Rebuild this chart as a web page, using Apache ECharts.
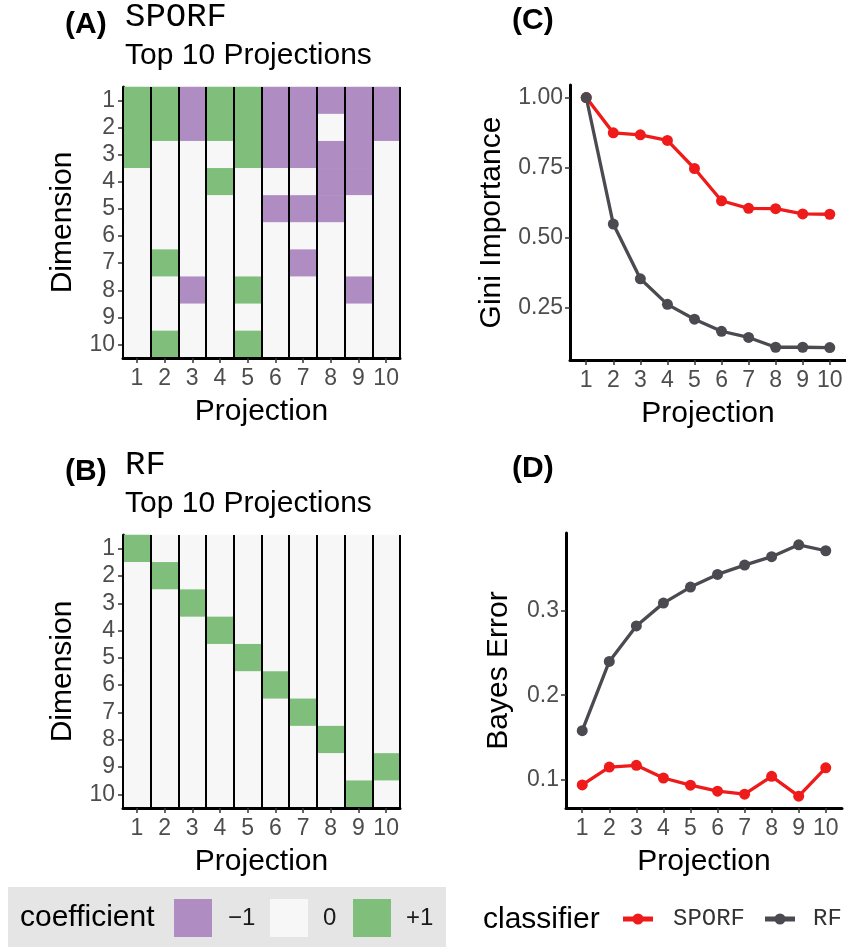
<!DOCTYPE html>
<html>
<head>
<meta charset="utf-8">
<script src="https://cdn.jsdelivr.net/npm/echarts@6/dist/echarts.min.js"></script>
<style>html,body{margin:0;padding:0;background:#fff}#c{width:846px;height:947px}</style>
</head>
<body>
<div id="c"></div>
<script>
// ---- data ----
const projections = ['1','2','3','4','5','6','7','8','9','10'];
const dimensions = ['1','2','3','4','5','6','7','8','9','10'];
// coefficient per projection (column), rows = dimension 1..10
const sporfCoef = [
  [ 1, 1, 1, 0, 0, 0, 0, 0, 0, 0],
  [ 1, 1, 0, 0, 0, 0, 1, 0, 0, 1],
  [-1,-1, 0, 0, 0, 0, 0,-1, 0, 0],
  [ 1, 1, 0, 1, 0, 0, 0, 0, 0, 0],
  [ 1, 1, 1, 0, 0, 0, 0, 1, 0, 1],
  [-1,-1,-1, 0,-1, 0, 0, 0, 0, 0],
  [-1,-1,-1, 0,-1, 0,-1, 0, 0, 0],
  [-1, 0,-1,-1,-1, 0, 0, 0, 0, 0],
  [-1,-1,-1,-1, 0, 0, 0,-1, 0, 0],
  [-1,-1, 0, 0, 0, 0, 0, 0, 0, 0]
];
const rfCoef = [
  [1,0,0,0,0,0,0,0,0,0],
  [0,1,0,0,0,0,0,0,0,0],
  [0,0,1,0,0,0,0,0,0,0],
  [0,0,0,1,0,0,0,0,0,0],
  [0,0,0,0,1,0,0,0,0,0],
  [0,0,0,0,0,1,0,0,0,0],
  [0,0,0,0,0,0,1,0,0,0],
  [0,0,0,0,0,0,0,1,0,0],
  [0,0,0,0,0,0,0,0,0,1],
  [0,0,0,0,0,0,0,0,1,0]
];
const projNum = [1,2,3,4,5,6,7,8,9,10];
const giniSPORF = [1.000,0.874,0.867,0.847,0.747,0.632,0.605,0.604,0.585,0.584];
const giniRF    = [1.000,0.549,0.354,0.263,0.210,0.167,0.145,0.110,0.110,0.109];
const bayesSPORF = [0.0938,0.115,0.117,0.102,0.0935,0.0864,0.0829,0.104,0.0805,0.114];
const bayesRF    = [0.158,0.240,0.282,0.309,0.328,0.343,0.354,0.364,0.378,0.371];
const giniTicks = [0.25,0.50,0.75,1.00];
const bayesTicks = [0.1,0.2,0.3];
const coefLevels = [-1,0,1];
const coefLabels = ['\u22121','0','+1'];
const classifiers = ['SPORF','RF'];

// ---- helpers ----
const SANS = '"Liberation Sans", Arial, Helvetica, sans-serif';
const MONO = '"Liberation Mono", "Courier New", monospace';
const RED = '#EF1B1B', GREY = '#4A4A50';
const COLS = ['#af8dc3','#f7f7f7','#7fbf7b'];
function heatData(coef){
  const out = [];
  coef.forEach((col, j) => col.forEach((v, i) => out.push([j, i, v])));
  return out;
}
function pairs(xs, ys){ return xs.map((x,i)=>[x, ys[i]]); }
const tickLbl = {color:'#4d4d4d', fontSize:23, fontFamily:SANS};
const axLine = {show:true, lineStyle:{color:'#000', width:3}};
const axTick = {show:true, length:5, lineStyle:{color:'#333', width:1.5}};
const nameStyle = {fontSize:30, color:'#000', fontFamily:SANS};

function heatX(gi){
  return {type:'category', gridIndex:gi, data:projections, z:10,
    axisLine:axLine, axisTick:Object.assign({alignWithLabel:true, interval:0}, axTick),
    axisLabel:Object.assign({margin:9, interval:0}, tickLbl),
    splitLine:{show:true, interval:0, lineStyle:{color:'#000', width:2}},
    name:'Projection', nameLocation:'middle', nameGap:39, nameTextStyle:nameStyle};
}
function heatY(gi){
  return {type:'category', gridIndex:gi, data:dimensions, inverse:true,
    axisLine:axLine, axisTick:Object.assign({alignWithLabel:true, interval:0}, axTick),
    axisLabel:Object.assign({margin:8, interval:0}, tickLbl), splitLine:{show:false},
    name:'Dimension', nameLocation:'middle', nameGap:45, nameTextStyle:nameStyle};
}
function lineX(gi){
  return {type:'value', gridIndex:gi, min:0.4, max:10.6,
    axisLine:axLine,
    axisTick:Object.assign({customValues:projNum}, axTick),
    axisLabel:Object.assign({margin:9, customValues:projNum, formatter:v=>String(v)}, tickLbl),
    splitLine:{show:false},
    name:'Projection', nameLocation:'middle', nameGap:39, nameTextStyle:nameStyle};
}
function lineY(gi, min, max, ticks, fmt, name, gap){
  return {type:'value', gridIndex:gi, min:min, max:max,
    axisLine:axLine,
    axisTick:Object.assign({customValues:ticks}, axTick),
    axisLabel:Object.assign({margin:7, customValues:ticks, formatter:fmt}, tickLbl),
    splitLine:{show:false},
    name:name, nameLocation:'middle', nameGap:gap, nameTextStyle:nameStyle};
}
function lineSeries(name, xi, yi, data, color){
  return {type:'line', name:name, xAxisIndex:xi, yAxisIndex:yi, data:data,
    symbol:'circle', symbolSize:11, showSymbol:true,
    lineStyle:{color:color, width:3.3}, itemStyle:{color:color}, z:3};
}
function txt(t, x, y, font, fill){
  return {type:'text', x:x, y:y, style:{text:t, font:font, fill:fill||'#000', verticalAlign:'middle', align:'left'}};
}

// legend graphics
const LY = 918;
const keyX = [174, 270, 353];
const keyLblX = [228, 323, 406];
const coefLegend = [];
coefLevels.forEach((v,i)=>{
  coefLegend.push({type:'rect', shape:{x:keyX[i], y:LY-19, width:38, height:38}, style:{fill:COLS[i]}});
  coefLegend.push(txt(coefLabels[i], keyLblX[i], LY, '24px '+SANS, '#1a1a1a'));
});
const clsKeyX = [623, 765];
const clsLblX = [673, 813];
const clsCol = [RED, GREY];
const clsLegend = [];
classifiers.forEach((c,i)=>{
  clsLegend.push({type:'line', shape:{x1:clsKeyX[i], y1:LY+1, x2:clsKeyX[i]+30, y2:LY+1}, style:{stroke:clsCol[i], lineWidth:5}});
  clsLegend.push({type:'circle', shape:{cx:clsKeyX[i]+15, cy:LY+1, r:5.5}, style:{fill:clsCol[i]}});
  clsLegend.push(txt(c, clsLblX[i], LY+1, '24px '+MONO, '#333'));
});

const option = {
  animation:false,
  backgroundColor:'#fff',
  grid:[
    {left:123, top:87, width:277, height:271},
    {left:123, top:535, width:277, height:273},
    {left:570, top:85, width:276, height:275},
    {left:566, top:533, width:276, height:275}
  ],
  xAxis:[heatX(0), heatX(1), lineX(2), lineX(3)],
  yAxis:[heatY(0), heatY(1),
    lineY(2, 0.0646, 1.0446, giniTicks, v=>v.toFixed(2), 'Gini Importance', 63),
    lineY(3, 0.0665, 0.392, bayesTicks, v=>v.toFixed(1), 'Bayes Error', 52)],
  visualMap:[{
    type:'piecewise', seriesIndex:[0,1], show:false,
    pieces: coefLevels.map((v,i)=>({value:v, label:coefLabels[i], color:COLS[i]}))
  }],
  graphic:[
    {type:'rect', shape:{x:8, y:887, width:438, height:60}, style:{fill:'#e5e5e5'}, z:-1},
    txt('coefficient', 20, LY, '30px '+SANS),
    txt('classifier', 483, LY+2, '30px '+SANS),
    txt('(A)', 65, 25, 'bold 30px '+SANS),
    txt('SPORF', 125, 17, '34px '+MONO),
    txt('Top 10 Projections', 125, 56, '30px '+SANS),
    txt('(B)', 65, 472, 'bold 30px '+SANS),
    txt('RF', 125, 465, '34px '+MONO),
    txt('Top 10 Projections', 125, 504, '30px '+SANS),
    txt('(C)', 512, 21, 'bold 30px '+SANS),
    txt('(D)', 512, 469, 'bold 30px '+SANS)
  ].concat(coefLegend, clsLegend),
  series:[
    {type:'heatmap', xAxisIndex:0, yAxisIndex:0, data:heatData(sporfCoef), itemStyle:{borderWidth:0}},
    {type:'heatmap', xAxisIndex:1, yAxisIndex:1, data:heatData(rfCoef), itemStyle:{borderWidth:0}},
    lineSeries('SPORF', 2, 2, pairs(projNum, giniSPORF), RED),
    lineSeries('RF', 2, 2, pairs(projNum, giniRF), GREY),
    lineSeries('SPORF', 3, 3, pairs(projNum, bayesSPORF), RED),
    lineSeries('RF', 3, 3, pairs(projNum, bayesRF), GREY)
  ]
};
const chart = echarts.init(document.getElementById('c'), null, {renderer:'canvas'});
chart.setOption(option);
</script>
</body>
</html>
